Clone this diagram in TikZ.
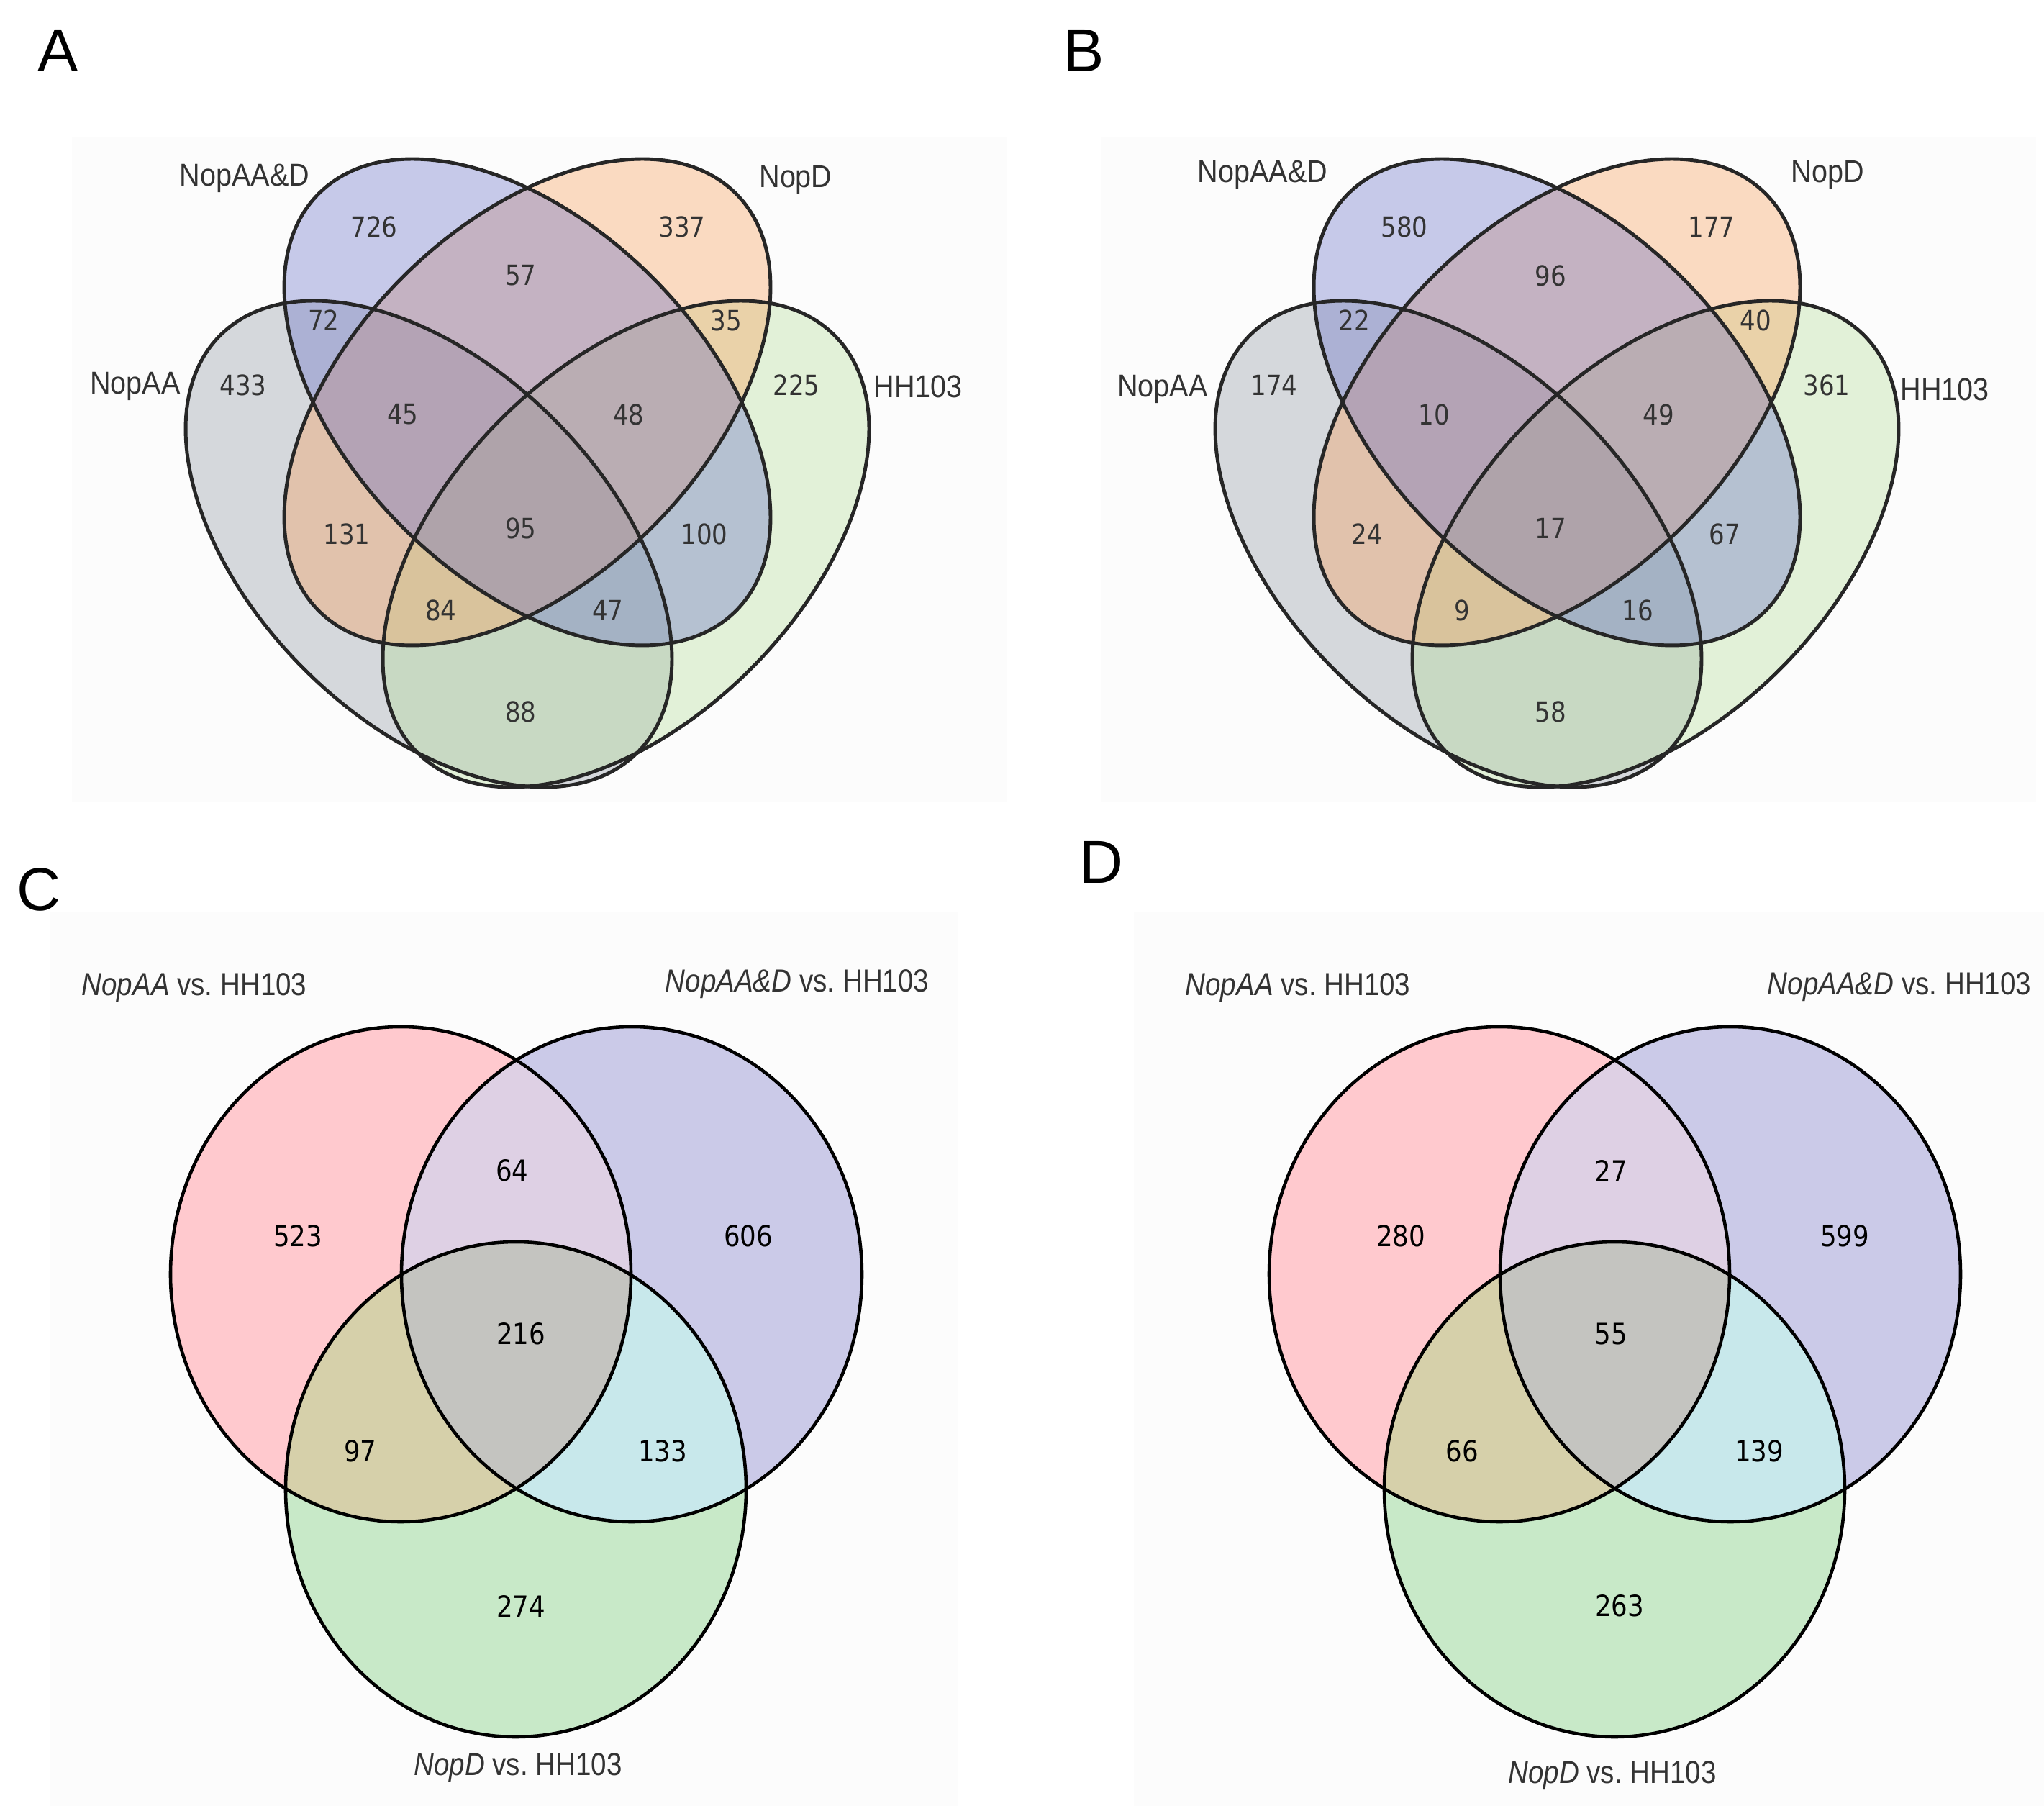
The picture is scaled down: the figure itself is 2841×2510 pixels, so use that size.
\documentclass[tikz,border=0pt]{standalone}
\usepackage{fontspec}
\setmainfont{Liberation Sans}
\newfontfamily\numfont[FakeStretch=0.88]{DejaVu Sans}
\newfontfamily\labfont[FakeStretch=0.9]{Liberation Sans}
\newfontfamily\vsfont[FakeStretch=0.87]{Liberation Sans}
\usepackage{xcolor}
\definecolor{grayset}{RGB}{141,149,161}
\definecolor{blueset}{RGB}{98,106,198}
\definecolor{orangeset}{RGB}{249,155,84}
\definecolor{greenset}{RGB}{178,221,149}
\definecolor{pinkonly}{HTML}{FFC9CE}
\definecolor{lilaconly}{HTML}{CBCAE8}
\definecolor{mintonly}{HTML}{C8E9C8}
\definecolor{pinklilac}{HTML}{DED0E4}
\definecolor{pinkmint}{HTML}{D6D0AA}
\definecolor{lilacmint}{HTML}{C8E8EB}
\definecolor{allthree}{HTML}{C4C4C0}

\begin{document}
\begin{tikzpicture}[x=0.01cm, y=-0.01cm]
    \tikzstyle{panel} = [font=\fontsize{24}{28}\selectfont]
    \tikzstyle{setname} = [font=\labfont\fontsize{12.5}{15}\selectfont,
    text=black!80]
    \tikzstyle{count} = [font=\numfont\fontsize{11}{13}\selectfont,
    text=black!80]
    \tikzstyle{tricount} = [font=\numfont\fontsize{11.5}{13}\selectfont]
    \tikzstyle{vsname} = [font=\vsfont\fontsize{12.6}{15}\selectfont,
    text=black!80]
    \tikzstyle{shade} = [fill opacity=0.35]
    \tikzstyle{ring} = [draw=black!85, line width=1.4pt]
    \tikzstyle{circ} = [draw=black, line width=1.3pt]
    \useasboundingbox (0,0) rectangle (2841,2510);
    \fill[white] (0,0) rectangle (2841,2510);
    \fill[black!1] (100,190) rectangle (1400,1115);
    \fill[black!1] (1530,190) rectangle (2830,1115);
    \fill[black!1] (69,1268) rectangle (1332,2510);
    \fill[black!1] (1576,1268) rectangle (2841,2510);

    % A
    \node [panel] at (81,70) (pA) {A};
    \fill[grayset, shade, rotate around={-45:(596,756)}] (596,756) ellipse (410 and 245.5);
    \fill[greenset, shade, rotate around={45:(870,756)}] (870,756) ellipse (410 and 245.5);
    \fill[orangeset, shade, rotate around={45:(733,559)}] (733,559) ellipse (410 and 245.5);
    \fill[blueset, shade, rotate around={-45:(733,559)}] (733,559) ellipse (410 and 245.5);
    \draw[ring, rotate around={-45:(596,756)}] (596,756) ellipse (410 and 245.5);
    \draw[ring, rotate around={45:(870,756)}] (870,756) ellipse (410 and 245.5);
    \draw[ring, rotate around={45:(733,559)}] (733,559) ellipse (410 and 245.5);
    \draw[ring, rotate around={-45:(733,559)}] (733,559) ellipse (410 and 245.5);
    \node [setname] at (340,248) (aAAD) {NopAA\&D};
    \node [setname] at (1106,250) (aD) {NopD};
    \node [setname] at (188,537) (aAA) {NopAA};
    \node [setname] at (1276,537) (aHH) {HH103};
    \node [count] at (520,315) (a726) {726};
    \node [count] at (948,315) (a337) {337};
    \node [count] at (724,383) (a57) {57};
    \node [count] at (450,445) (a72) {72};
    \node [count] at (1009,445) (a35) {35};
    \node [count] at (338,535) (a433) {433};
    \node [count] at (1107,535) (a225) {225};
    \node [count] at (560,576) (a45) {45};
    \node [count] at (874,576) (a48) {48};
    \node [count] at (482,742) (a131) {131};
    \node [count] at (724,734) (a95) {95};
    \node [count] at (979,742) (a100) {100};
    \node [count] at (613,848) (a84) {84};
    \node [count] at (845,848) (a47) {47};
    \node [count] at (724,989) (a88) {88};

    % B
    \node [panel] at (1507,70) (pB) {B};
    \fill[grayset, shade, rotate around={-45:(2027,756)}] (2027,756) ellipse (410 and 245.5);
    \fill[greenset, shade, rotate around={45:(2301,756)}] (2301,756) ellipse (410 and 245.5);
    \fill[orangeset, shade, rotate around={45:(2164,559)}] (2164,559) ellipse (410 and 245.5);
    \fill[blueset, shade, rotate around={-45:(2164,559)}] (2164,559) ellipse (410 and 245.5);
    \draw[ring, rotate around={-45:(2027,756)}] (2027,756) ellipse (410 and 245.5);
    \draw[ring, rotate around={45:(2301,756)}] (2301,756) ellipse (410 and 245.5);
    \draw[ring, rotate around={45:(2164,559)}] (2164,559) ellipse (410 and 245.5);
    \draw[ring, rotate around={-45:(2164,559)}] (2164,559) ellipse (410 and 245.5);
    \node [setname] at (1755,243) (bAAD) {NopAA\&D};
    \node [setname] at (2540,243) (bD) {NopD};
    \node [setname] at (1616,541) (bAA) {NopAA};
    \node [setname] at (2703,541) (bHH) {HH103};
    \node [count] at (1952,315) (b580) {580};
    \node [count] at (2379,315) (b177) {177};
    \node [count] at (2155,383) (b96) {96};
    \node [count] at (1882,445) (b22) {22};
    \node [count] at (2440,445) (b40) {40};
    \node [count] at (1771,535) (b174) {174};
    \node [count] at (2539,535) (b361) {361};
    \node [count] at (1993,576) (b10) {10};
    \node [count] at (2305,576) (b49) {49};
    \node [count] at (1900,742) (b24) {24};
    \node [count] at (2155,734) (b17) {17};
    \node [count] at (2397,742) (b67) {67};
    \node [count] at (2032,848) (b9) {9};
    \node [count] at (2276,848) (b16) {16};
    \node [count] at (2155,989) (b58) {58};

    % C
    \node [panel] at (54,1236) (pC) {C};
    \fill[pinkonly] (557,1771) ellipse (320 and 344);
    \fill[lilaconly] (878,1771) ellipse (320 and 344);
    \fill[mintonly] (717,2070) ellipse (320 and 344);
    \begin{scope}
        \clip (557,1771) ellipse (320 and 344);
        \fill[pinklilac] (878,1771) ellipse (320 and 344);
        \fill[pinkmint] (717,2070) ellipse (320 and 344);
    \end{scope}
    \begin{scope}
        \clip (878,1771) ellipse (320 and 344);
        \fill[lilacmint] (717,2070) ellipse (320 and 344);
    \end{scope}
    \begin{scope}
        \clip (557,1771) ellipse (320 and 344);
        \clip (878,1771) ellipse (320 and 344);
        \fill[allthree] (717,2070) ellipse (320 and 344);
    \end{scope}
    \draw[circ] (557,1771) ellipse (320 and 344);
    \draw[circ] (878,1771) ellipse (320 and 344);
    \draw[circ] (717,2070) ellipse (320 and 344);
    \node [vsname] at (270,1373) (cAA) {\itshape NopAA\upshape{} vs.\ HH103};
    \node [vsname] at (1108,1368) (cAAD) {\itshape NopAA\&D\upshape{} vs.\ HH103};
    \node [vsname] at (720,2457) (cD) {\itshape NopD\upshape{} vs.\ HH103};
    \node [tricount] at (414,1718) (c523) {523};
    \node [tricount] at (712,1627) (c64) {64};
    \node [tricount] at (1040,1718) (c606) {606};
    \node [tricount] at (724,1854) (c216) {216};
    \node [tricount] at (501,2017) (c97) {97};
    \node [tricount] at (921,2017) (c133) {133};
    \node [tricount] at (724,2232) (c274) {274};

    % D
    \node [panel] at (1531,1198) (pD) {D};
    \fill[pinkonly] (2084,1771) ellipse (320 and 344);
    \fill[lilaconly] (2405,1771) ellipse (320 and 344);
    \fill[mintonly] (2244,2070) ellipse (320 and 344);
    \begin{scope}
        \clip (2084,1771) ellipse (320 and 344);
        \fill[pinklilac] (2405,1771) ellipse (320 and 344);
        \fill[pinkmint] (2244,2070) ellipse (320 and 344);
    \end{scope}
    \begin{scope}
        \clip (2405,1771) ellipse (320 and 344);
        \fill[lilacmint] (2244,2070) ellipse (320 and 344);
    \end{scope}
    \begin{scope}
        \clip (2084,1771) ellipse (320 and 344);
        \clip (2405,1771) ellipse (320 and 344);
        \fill[allthree] (2244,2070) ellipse (320 and 344);
    \end{scope}
    \draw[circ] (2084,1771) ellipse (320 and 344);
    \draw[circ] (2405,1771) ellipse (320 and 344);
    \draw[circ] (2244,2070) ellipse (320 and 344);
    \node [vsname] at (1804,1373) (dAA) {\itshape NopAA\upshape{} vs.\ HH103};
    \node [vsname] at (2640,1372) (dAAD) {\itshape NopAA\&D\upshape{} vs.\ HH103};
    \node [vsname] at (2241,2468) (dD) {\itshape NopD\upshape{} vs.\ HH103};
    \node [tricount] at (1947,1718) (d280) {280};
    \node [tricount] at (2239,1627) (d27) {27};
    \node [tricount] at (2564,1718) (d599) {599};
    \node [tricount] at (2239,1854) (d55) {55};
    \node [tricount] at (2032,2017) (d66) {66};
    \node [tricount] at (2445,2017) (d139) {139};
    \node [tricount] at (2251,2232) (d263) {263};
\end{tikzpicture}
\end{document}
